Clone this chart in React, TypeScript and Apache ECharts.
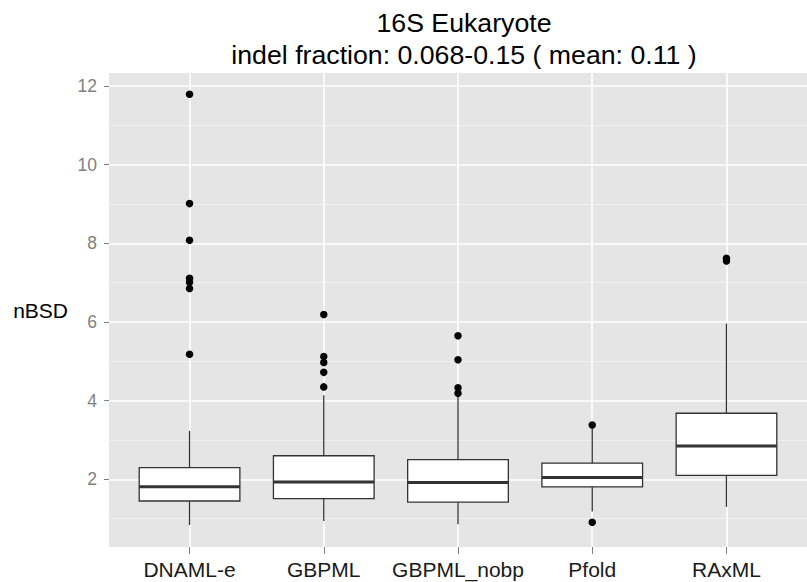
import React, { useEffect, useRef } from "react";
import * as echarts from "echarts";

const categories = ["DNAML-e", "GBPML", "GBPML_nobp", "Pfold", "RAxML"];
const whiskerLow = [0.84, 0.94, 0.86, 1.18, 1.3];
const q1 = [1.45, 1.51, 1.42, 1.81, 2.1];
const median = [1.81, 1.93, 1.92, 2.05, 2.85];
const q3 = [2.3, 2.6, 2.5, 2.41, 3.68];
const whiskerHigh = [3.23, 4.14, 4.12, 3.3, 5.96];
const outliers = [
  [11.79, 9.01, 8.08, 7.11, 7.01, 6.85, 5.18],
  [6.19, 5.12, 4.97, 4.72, 4.35],
  [5.65, 5.04, 4.33, 4.19],
  [3.38, 0.91],
  [7.62, 7.55],
];
const yMajorTicks = [2, 4, 6, 8, 10, 12];
const yMinorTicks = [1, 3, 5, 7, 9, 11];
const xTicks = [1, 2, 3, 4, 5];

const FONT = "'Liberation Sans', Arial, Helvetica, sans-serif";
const BOX_WIDTH = 0.75;

export default function App() {
  const ref = useRef<HTMLDivElement>(null);
  useEffect(() => {
    if (!ref.current) return;
    const chart = echarts.init(ref.current, undefined, { renderer: "svg" });

    const boxData = categories.map((_, i) => [
      i + 1,
      whiskerLow[i],
      q1[i],
      median[i],
      q3[i],
      whiskerHigh[i],
    ]);
    const outlierData: number[][] = [];
    outliers.forEach((arr, i) => arr.forEach((v) => outlierData.push([i + 1, v])));

    const option: any = {
      animation: false,
      backgroundColor: "#FFFFFF",
      textStyle: { fontFamily: FONT },
      title: {
        text: "16S Eukaryote\nindel fraction: 0.068-0.15 ( mean: 0.11 )",
        left: 464,
        top: 7,
        padding: 0,
        textAlign: "center",
        textStyle: {
          fontFamily: FONT,
          fontSize: 26.7,
          fontWeight: "normal",
          color: "#000000",
          lineHeight: 32,
        },
      },
      grid: {
        left: 109,
        top: 73,
        width: 710,
        height: 474,
        show: true,
        backgroundColor: "#E5E5E5",
        borderWidth: 0,
      },
      xAxis: {
        type: "value",
        min: 0.4,
        max: 5.6,
        z: 1,
        axisLine: { show: false },
        axisTick: {
          show: true,
          customValues: xTicks,
          length: 7,
          lineStyle: { color: "#7F7F7F", width: 1 },
        },
        axisLabel: {
          customValues: xTicks,
          margin: 12,
          fontSize: 21,
          color: "#1A1A1A",
          fontFamily: FONT,
          formatter: (v: number) => categories[Math.round(v) - 1] ?? "",
        },
        splitLine: { show: true, lineStyle: { color: "#FFFFFF", width: 1.6 } },
      },
      yAxis: [
        {
          type: "value",
          min: 0.28,
          max: 12.33,
          z: 1,
          name: "nBSD",
          nameLocation: "middle",
          nameRotate: 0,
          nameGap: 41,
          nameTextStyle: { fontSize: 21, color: "#000000", fontFamily: FONT },
          axisLine: { show: false },
          axisTick: {
            show: true,
            customValues: yMajorTicks,
            length: 5,
            lineStyle: { color: "#7F7F7F", width: 1 },
          },
          axisLabel: {
            customValues: yMajorTicks,
            margin: 12,
            fontSize: 17.5,
            color: "#7F7F7F",
            fontFamily: FONT,
          },
          splitLine: { show: true, lineStyle: { color: "#FFFFFF", width: 1.6 } },
        },
        {
          type: "value",
          min: 0.28,
          max: 12.33,
          z: 0,
          axisLine: { show: false },
          axisTick: { show: false, customValues: yMinorTicks },
          axisLabel: { show: false, customValues: yMinorTicks },
          splitLine: { show: true, lineStyle: { color: "#F2F2F2", width: 0.8 } },
        },
      ],
      series: [
        {
          type: "custom",
          xAxisIndex: 0,
          yAxisIndex: 0,
          z: 3,
          data: boxData,
          encode: { x: 0, y: [1, 2, 3, 4, 5] },
          renderItem: (params: any, api: any) => {
            const x = api.value(0);
            const lo = api.coord([x, api.value(1)]);
            const b1 = api.coord([x, api.value(2)]);
            const md = api.coord([x, api.value(3)]);
            const b3 = api.coord([x, api.value(4)]);
            const hi = api.coord([x, api.value(5)]);
            const w = api.size([BOX_WIDTH, 0])[0];
            const stroke = "#333333";
            return {
              type: "group",
              children: [
                {
                  type: "line",
                  shape: { x1: hi[0], y1: hi[1], x2: b3[0], y2: b3[1] },
                  style: { stroke, lineWidth: 1.3 },
                },
                {
                  type: "line",
                  shape: { x1: b1[0], y1: b1[1], x2: lo[0], y2: lo[1] },
                  style: { stroke, lineWidth: 1.3 },
                },
                {
                  type: "rect",
                  shape: { x: b3[0] - w / 2, y: b3[1], width: w, height: b1[1] - b3[1] },
                  style: { fill: "#FFFFFF", stroke, lineWidth: 1.3 },
                },
                {
                  type: "line",
                  shape: { x1: md[0] - w / 2, y1: md[1], x2: md[0] + w / 2, y2: md[1] },
                  style: { stroke, lineWidth: 3 },
                },
              ],
            };
          },
        },
        {
          type: "scatter",
          xAxisIndex: 0,
          yAxisIndex: 0,
          z: 4,
          symbol: "circle",
          symbolSize: 7.5,
          itemStyle: { color: "#000000", opacity: 1 },
          data: outlierData,
        },
      ],
    };
    chart.setOption(option);
    return () => chart.dispose();
  }, []);

  return (
    <div
      ref={ref}
      style={{ position: "fixed", left: 0, top: 0, width: 807, height: 582 }}
    />
  );
}
